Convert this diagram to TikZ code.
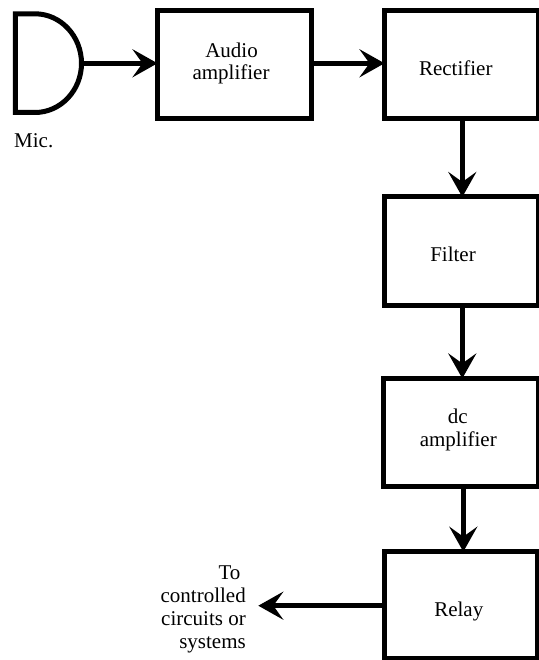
\documentclass[tikz,border=0pt]{standalone}
\usepackage{fontspec}
\setmainfont{Liberation Serif}
\usetikzlibrary{arrows.meta}
\begin{document}
\begin{tikzpicture}[x=1pt,y=-1pt,
  blk/.style={draw=black,line width=5pt,fill=white,outer sep=0pt,inner sep=0pt,minimum width=154pt,minimum height=108.5pt},
  conn/.style={draw=black,line width=5pt,-{Stealth[length=25pt,width=28pt,inset=10pt]}},
  txt/.style={inner sep=0pt,anchor=base,font=\fontsize{21}{22.8}\selectfont},
  lab/.style={inner sep=0pt,align=right,font=\fontsize{21}{22.8}\selectfont}]
\useasboundingbox (0,0) rectangle (538,660);
\node[blk,minimum width=153.5pt] (audio) at (234.25,64.65) {};
\node[blk] (rect) at (461.5,64.75) {};
\node[blk] (filter) at (461.5,251.25) {};
\node[blk,minimum width=154.7pt] (dc) at (460.7,432.7) {};
\node[blk,minimum width=153pt,minimum height=106.3pt] (relay) at (461,604.85) {};
\node[txt] (t1) at (231.5,57.5) {Audio};
\node[txt] (t2) at (231,79.5) {amplifier};
\node[txt] (t3) at (455.8,75.5) {Rectifier};
\node[txt] (t4) at (453,261) {Filter};
\node[txt] (t5) at (457.7,423.5) {dc};
\node[txt] (t6) at (458.3,446) {amplifier};
\node[txt] (t7) at (458.8,616.5) {Relay};
\node[txt,anchor=base west] (mic) at (14,148) {Mic.};
\node[lab,anchor=north east] (to) at (246,566) {To\hspace*{5.4pt}\\controlled\\circuits or\\systems};
\coordinate (micR) at (81.5,63.3);
\coordinate (toEnd) at (258.3,605.7);
\draw[line width=5pt,line join=miter] (35,13.8) -- (15.3,13.8) -- (15.3,112.5) -- (35,112.5) .. controls (60.6,112.5) and (81.5,90.4) .. (micR) .. controls (81.5,36) and (60.6,13.8) .. (35,13.8);
\draw[conn] (micR) -- (audio.west |- micR);
\draw[conn] (audio.east |- micR) -- (rect.west |- micR);
\draw[conn] ([xshift=.8pt]rect.south) -- ([xshift=.8pt]filter.north);
\draw[conn] ([xshift=.8pt]filter.south) -- ([xshift=1.6pt]dc.north);
\draw[conn] ([xshift=2.6pt]dc.south) -- ([xshift=2.3pt]relay.north);
\draw[conn] (relay.west |- toEnd) -- (toEnd);
\end{tikzpicture}
\end{document}
